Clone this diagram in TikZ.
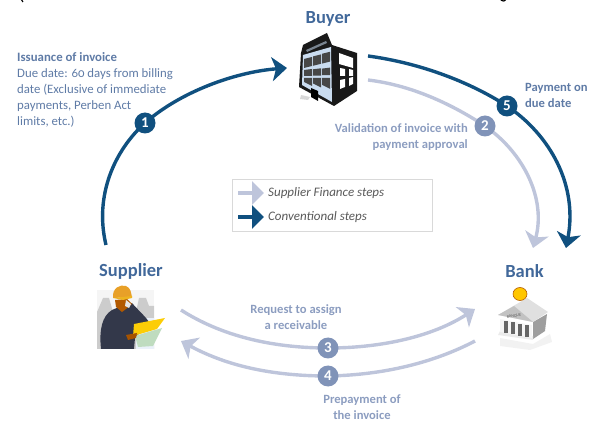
\documentclass[tikz,border=0pt]{standalone}
\usepackage{fontspec}
\setmainfont{Carlito}
\newfontfamily\oldnums{Carlito}[Numbers=OldStyle]
\usetikzlibrary{arrows.meta}
\definecolor{darkflow}{HTML}{10507F}
\definecolor{lightflow}{HTML}{BEC5DB}
\definecolor{lightdot}{HTML}{8093B8}
\definecolor{headtext}{HTML}{41689A}
\definecolor{bluetext}{HTML}{5F7BA6}
\definecolor{paletext}{HTML}{8C9DC0}
\definecolor{wallblue}{HTML}{CADCF0}
\definecolor{suit}{HTML}{33384A}
\definecolor{helmet}{HTML}{E8A028}
\tikzset{
  x=1pt,y=-1pt,
  darkline/.style={draw=darkflow,line width=3.4pt},
  paleline/.style={draw=lightflow,line width=3.4pt},
  darkarrow/.style={darkline,-{Stealth[length=15pt,width=24pt,inset=4pt,fill=darkflow]}},
  palearrow/.style={paleline,-{Stealth[length=15pt,width=24pt,inset=4pt,fill=lightflow]}},
  stepdark/.style={circle,fill=darkflow,text=white,minimum size=21pt,inner sep=0pt,font=\fontsize{15}{15}\selectfont\bfseries},
  steppale/.style={circle,fill=lightdot,text=white,minimum size=21pt,inner sep=0pt,font=\fontsize{15}{15}\selectfont\bfseries},
  heading/.style={text=headtext,inner sep=0pt,font=\fontsize{18.5}{19}\selectfont\bfseries},
  bluenote/.style={text=bluetext,inner sep=0pt,align=left,anchor=north west,font=\fontsize{12.8}{16}\selectfont},
  palenote/.style={text=paletext,inner sep=0pt,font=\fontsize{12.6}{16}\selectfont\bfseries},
  legendtext/.style={text=black!65,inner sep=0pt,anchor=west,font=\fontsize{13}{15}\selectfont\itshape},
}
\begin{document}
\begin{tikzpicture}
\useasboundingbox (0,0) rectangle (595,422);
% clipped descenders of the text above the figure
\begin{scope}
\clip (0,0) rectangle (595,3);
\draw[black,line width=1.2pt] (21,-1) -- (23,2);
\draw[black,line width=1.2pt] (103,-3) arc[start angle=180,end angle=360,x radius=4,y radius=5];
\draw[black,line width=1.2pt] (475,-3) arc[start angle=180,end angle=360,x radius=4,y radius=5];
\draw[black,line width=1.2pt] (500,-1) .. controls (503,2) and (505,2) .. (507,-3);
\end{scope}

% named ends of the connectors
\coordinate (s1) at (106,245);
\coordinate (m1) at (145,123);
\coordinate (e1) at (287,68);
\coordinate (s2) at (368,80);
\coordinate (m2) at (485,126);
\coordinate (e2) at (533,248);
\coordinate (s5) at (368,56);
\coordinate (m5) at (507,106);
\coordinate (e5) at (566,248);
\coordinate (s3) at (181,310);
\coordinate (m3) at (328,348);
\coordinate (e3) at (475,309);
\coordinate (s4) at (475,341);
\coordinate (m4) at (328,376);
\coordinate (e4) at (181,341);

% connectors
\draw[palearrow] (s2) .. controls (410,85) and (450,103) .. (m2) .. controls (525,154) and (546,200) .. (e2);
\draw[darkarrow] (s5) .. controls (420,63) and (470,82) .. (m5) .. controls (550,135) and (578,185) .. (e5);
\draw[darkarrow] (s1) .. controls (94,195) and (115,150) .. (m1) .. controls (180,92) and (235,72) .. (e1);
\draw[palearrow] (s3) .. controls (220,335) and (270,348) .. (m3) .. controls (385,348) and (435,335) .. (e3);
\draw[palearrow] (s4) .. controls (435,362) and (385,375) .. (m4) .. controls (270,376) and (225,365) .. (e4);

% step markers
\node[stepdark] (n1) at (m1) {1};
\node[steppale] (n2) at (m2) {2};
\node[steppale] (n3) at (m3) {3};
\node[steppale] (n4) at (m4) {4};
\node[stepdark] (n5) at (m5) {5};

% headings
\node[heading] (buyer) at (328,19) {Buyer};
\node[heading] (supplier) at (131,271) {Supplier};
\node[heading] (bank) at (524.5,271) {Bank};

% notes
\node[bluenote] (note1) at (17,52) {\textbf{Issuance of invoice}\\Due date: {\oldnums 60} days from billing\\date (Exclusive of immediate\\payments, Perben Act\\limits, etc.)};
\node[bluenote,font=\fontsize{12.6}{16}\selectfont\bfseries] (note5) at (525,83) {Payment on\\due date};
\node[palenote,align=right,anchor=north east] (note2) at (468,123.5) {Validation of invoice with\\payment approval};
\node[palenote,align=center] (note3) at (296,317) {Request to assign\\a receivable};
\node[palenote,align=center] (note4) at (362,407) {Prepayment of\\the invoice};

% legend
\node[draw=black!15,line width=1pt,minimum width=200pt,minimum height=52pt,inner sep=0pt,anchor=north west] (legend) at (232,179) {};
\coordinate (l1a) at (238,193);
\coordinate (l1b) at (264,193);
\coordinate (l2a) at (238,217);
\coordinate (l2b) at (264,217);
\draw[draw=lightflow,line width=3.5pt,-{Triangle[length=12pt,width=23pt,fill=lightflow]}] (l1a) -- (l1b);
\draw[draw=darkflow,line width=3.5pt,-{Triangle[length=12pt,width=23pt,fill=darkflow]}] (l2a) -- (l2b);
\node[legendtext] (leg1) at (268,193) {Supplier Finance steps};
\node[legendtext] (leg2) at (268,217) {Conventional steps};

% Buyer icon
\fill[black!15] (301,95) -- (310,97) -- (308,100) -- (300,99) -- cycle;
\fill[black!90] (303,45) -- (327,33) -- (332,45) -- (357,53) -- (357,91) -- (334,106) -- (299,87) -- (301,53) -- cycle;
\fill[wallblue] (303,55) -- (331,47) -- (332,102) -- (302,85) -- cycle;
\fill[wallblue!60!black] (306,50) -- (326,41) -- (327,43) -- (307,52) -- cycle;
\foreach \c/\x in {0/304,1/313,2/322}{
  \fill[black!72] (\x,{59-\c*2.6}) -- (\x+8,{57-\c*2.6}) -- (\x+8,{66-\c*2.2}) -- (\x,{68-\c*2.2}) -- cycle;
  \fill[black!72] (\x,{70-\c*.7}) -- (\x+8,{69-\c*.7}) -- (\x+8,{76-\c*.4}) -- (\x,{76-\c*.4}) -- cycle;
  \fill[black!72] (\x,{78-\c*.1}) -- (\x+8,{78-\c*.1}) -- (\x+8,{86+\c*1.4}) -- (\x,{82+\c*1.4}) -- cycle;
}
\fill[black] (311,88) -- (318,91) -- (318,101) -- (311,97) -- cycle;
\fill[white] (339,53) -- (353,58) -- (353,68) -- (339,64) -- cycle;
\fill[white] (340,68) -- (345,69) -- (345,76) -- (340,76) -- cycle;
\fill[white] (349,69) -- (353,70) -- (353,76) -- (349,76) -- cycle;
\fill[white] (340,80) -- (345,79) -- (345,87) -- (340,89) -- cycle;
\fill[white] (349,78) -- (353,77) -- (353,84) -- (349,86) -- cycle;

% Supplier icon
\fill[blue!6!black!4] (97,290) rectangle (154,349);
\fill[black!20] (97,349) -- (97,312) -- (103,298) -- (109,298) -- (113,312) -- (136,312) -- (139,298) -- (146,298) -- (149,306) -- (154,306) -- (154,349) -- cycle;
\fill[wallblue!40!white] (136,318) rectangle (154,349);
\fill[suit] (101,349) .. controls (99,330) and (102,316) .. (112,310) -- (124,305) -- (132,303) .. controls (138,310) and (145,316) .. (149,322) -- (135,338) -- (134,349) -- cycle;
\fill[orange!70!black] (115,300) -- (127,299) -- (132,304) -- (126,309) -- (122,312) -- (116,307) -- cycle;
\fill[helmet] (113,298) .. controls (112,288) and (120,284) .. (126,286) .. controls (131,288) and (131,293) .. (132,297) -- cycle;
\fill[helmet!80!yellow] (113,298) -- (132,296) -- (132,298) -- (123,300) -- cycle;
\fill[black!10] (126,300) -- (131,304) -- (129,308) -- (125,306) -- cycle;
\fill[yellow!65!orange] (134,324) -- (165,318) -- (157,329) -- (133,336) -- cycle;
\fill[green!45!black!25!white] (135,336) -- (162,328) -- (153,346) -- (138,347) -- cycle;
\fill[orange!65!black] (126,335) -- (137,333) -- (136,338) -- (128,340) -- cycle;

% Bank icon
\fill[black!5] (500,338) -- (533,344) -- (550,334) -- (552,342) -- (530,350) -- (500,346) -- cycle;
\fill[black!38] (533,322) -- (547,314) -- (545,331) -- (533,339) -- cycle;
\fill[black!8] (498,335) -- (533,340) -- (533,336) -- (500,331) -- cycle;
\fill[black!12] (498,315) -- (527,298) -- (548,312) -- (533,322) -- cycle;
\fill[black!24] (498,315) -- (514,306) -- (533,322) -- cycle;
\fill[black!4] (500,319) -- (532,325) -- (532,338) -- (500,332) -- cycle;
\foreach \x/\y in {504/321,511/322.5,518/323.7,525/325}{
  \fill[black!60] (\x,\y) rectangle (\x+3.6,\y+12);
}
\node[inner sep=0pt,text=black!65,font=\fontsize{4}{4}\selectfont,rotate=8] (banque) at (514,316) {BANQUE};
\fill[orange!45!yellow,draw=orange!70!black,line width=.6pt] (520,294) circle[x radius=7,y radius=6.5];
\end{tikzpicture}
\end{document}
